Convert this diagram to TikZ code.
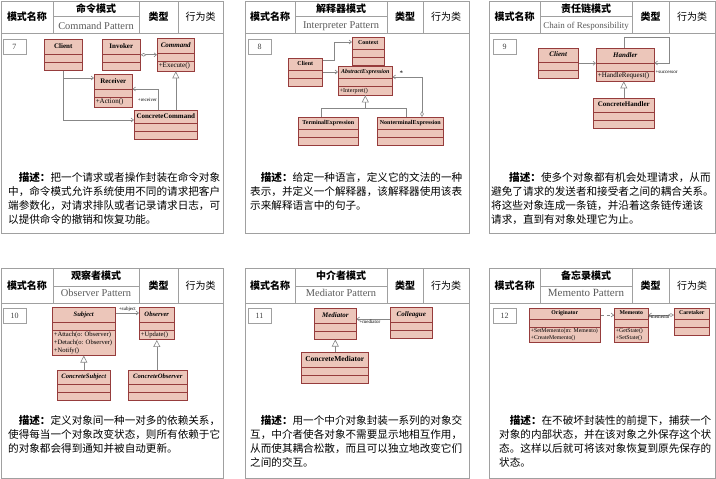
\documentclass[tikz,border=0pt]{standalone}
\usepackage{fontspec}
\setmainfont{Liberation Serif}
\newfontfamily\cjk{Noto Sans CJK SC}
\usetikzlibrary{shapes.multipart,arrows.meta}
\definecolor{clsfill}{RGB}{236,198,186}
\definecolor{clsline}{RGB}{150,60,60}
\definecolor{lgray}{RGB}{135,135,135}
\definecolor{fgray}{RGB}{160,160,160}
\newcommand{\cname}[2]{\rule[-\dimexpr#1/3\relax]{0pt}{#1}\textbf{#2}}
\begin{document}
\begin{tikzpicture}[x=1pt, y=-1pt,
  cls/.style={rectangle split, rectangle split parts=3, draw=clsline, fill=clsfill, line width=0.6pt,
    anchor=north west, inner xsep=1.5pt, inner ysep=1.5pt,
    rectangle split empty part height=1.5pt, rectangle split empty part depth=0pt,
    align=left, rectangle split part align={center,left,left}, font=\fontsize{7}{8}\selectfont},
  assoc/.style={draw=lgray, line width=0.6pt, -{Straight Barb[length=2.5pt,width=4pt]}},
  aggr/.style={assoc, {Diamond[fill=white,length=6pt,width=3.5pt]}-{Straight Barb[length=2.5pt,width=4pt]}},
  gen/.style={draw=lgray, line width=0.6pt, -{Triangle[fill=white,length=7pt,width=7pt]}},
  dep/.style={assoc, dashed},
  plain/.style={draw=lgray, line width=0.6pt},
  rl/.style={font=\fontsize{5}{5.5}\selectfont, inner sep=0.8pt},
  frame/.style={draw=fgray, line width=0.6pt},
  numbox/.style={draw=fgray, minimum width=23, minimum height=15, inner sep=0, font=\fontsize{8}{8}\selectfont, text=black!75},
  desc/.style={anchor=north west, inner sep=0, align=left, font=\cjk\fontsize{10.6}{14}\selectfont},
  hdb/.style={font=\cjk\bfseries\fontsize{10}{10}\selectfont},
  hdr/.style={font=\cjk\fontsize{10}{10}\selectfont}]
\useasboundingbox (0,0) rectangle (716,479);
% card frames
\foreach \l/\a/\b/\c/\r in {1/53/139/178/223, 245/295/387/423/469, 489/540/632/669/715}
  \foreach \t/\s/\h/\e in {1/16/33/233, 268/286/303/478} {
    \draw[frame] (\l,\t) rectangle (\r,\e);
    \draw[frame] (\l,\h) -- (\r,\h) (\a,\t) -- (\a,\h) (\b,\t) -- (\b,\h) (\c,\t) -- (\c,\h) (\a,\s) -- (\b,\s);
    \node[hdb] (name-\l-\t) at ({(\l+\a)/2},{(\t+\h)/2}) {模式名称};
    \node[hdb] (type-\l-\t) at ({(\b+\c)/2},{(\t+\h)/2}) {类型};
    \node[hdr] (kind-\l-\t) at ({(\c+\r)/2},{(\t+\h)/2}) {行为类};
  }
\foreach \n/\x/\y/\zh/\en/\fs in {a/96/1/命令模式/Command Pattern/10.4, b/341/1/解释器模式/Interpreter Pattern/10.4,
    c/586/1/责任链模式/Chain of Responsibility/9, d/96/268/观察者模式/Observer Pattern/10.4,
    e/341/268/中介者模式/Mediator Pattern/10.4, f/586/268/备忘录模式/Memento Pattern/11} {
  \node[hdb] (zh-\n) at (\x,\y+8) {\zh};
  \node[text=black!65, font=\fontsize{\fs}{\fs}\selectfont] (en-\n) at (\x,\y+25) {\en};
}
\node[numbox] (n7) at (14.5,46.5) {7};
\node[numbox] (n8) at (259.5,46.5) {8};
\node[numbox] (n9) at (504.5,46.5) {9};
\node[numbox] (n10) at (14.5,315.5) {10};
\node[numbox] (n11) at (259.5,315.5) {11};
\node[numbox] (n12) at (504.5,315.5) {12};
% 7 command
\node[cls, minimum width=38, minimum height=24] (client7) at (44,39) {\cname{11pt}{Client}\nodepart{second}\nodepart{third}};
\node[cls, minimum width=38, minimum height=23] (invoker7) at (102,39) {\cname{11pt}{Invoker}\nodepart{second}\nodepart{third}};
\node[cls, minimum width=37, minimum height=30] (command7) at (157,38) {\cname{11pt}{\textit{Command}}\nodepart{second}\nodepart{third}+Execute()};
\node[cls, minimum width=38, minimum height=30] (receiver7) at (94,74) {\cname{11pt}{Receiver}\nodepart{second}\nodepart{third}+Action()};
\node[cls, minimum width=63, minimum height=23] (ccmd7) at (134,110) {\cname{9pt}{ConcreteCommand}\nodepart{second}\nodepart{third}};
\draw[aggr] (invoker7.east) -- (invoker7.east -| command7.west);
\draw[assoc] (client7.south) |- ([yshift=-4pt]receiver7.north west);
\draw[assoc] (client7.south) |- ([yshift=-10pt]ccmd7.north west);
\draw[assoc] ([xshift=24pt]ccmd7.north west) |- node[pos=0.25, left, rl] (recv7) {+receiver} ([yshift=-15pt]receiver7.north east);
\draw[gen] (ccmd7.north -| command7.south) -- (command7.south);
% 8 interpreter
\node[cls, font=\fontsize{6}{7}\selectfont, minimum width=32, minimum height=19] (context8) at (352,37) {\cname{8pt}{Context}\nodepart{second}\nodepart{third}};
\node[cls, font=\fontsize{6}{7}\selectfont, minimum width=34, minimum height=19] (client8) at (288,58) {\cname{8pt}{Client}\nodepart{second}\nodepart{third}};
\node[cls, font=\fontsize{6}{7}\selectfont, minimum width=54, minimum height=26] (absexp8) at (338,66) {\cname{8pt}{\textit{AbstractExpression}}\nodepart{second}\nodepart{third}+Interpret()};
\node[cls, font=\fontsize{6}{7}\selectfont, minimum width=60, minimum height=20] (term8) at (298,117) {\cname{8pt}{TerminalExpression}\nodepart{second}\nodepart{third}};
\node[cls, font=\fontsize{6}{7}\selectfont, minimum width=66, minimum height=20] (nonterm8) at (377,117) {\cname{8pt}{NonterminalExpression}\nodepart{second}\nodepart{third}};
\draw[assoc] ([yshift=-2pt]client8.north east) -- ++(12,0) |- ([yshift=-5pt]context8.north west);
\draw[assoc] ([yshift=-14pt]client8.north east) -- ([yshift=-6pt]absexp8.north west);
\draw[plain] ([xshift=29pt]nonterm8.north west) -- ++(0,-9) -| (absexp8.south);
\draw[gen] ([xshift=23pt]term8.north west) -- ++(0,-9) -| (absexp8.south);
\draw[aggr] ([xshift=45pt]nonterm8.north west) |- node[pos=0.85, above, rl, font=\fontsize{7}{7}\selectfont] (star8) {*} ([yshift=-11pt]absexp8.north east);
% 9 chain of responsibility
\node[cls, minimum width=40, minimum height=22] (client9) at (538,48) {\cname{10pt}{\textit{Client}}\nodepart{second}\nodepart{third}};
\node[cls, minimum width=58, minimum height=32] (handler9) at (596,48) {\cname{11pt}{\textit{Handler}}\nodepart{second}\nodepart{third}+HandleRequest()};
\node[cls, minimum width=61, minimum height=22] (chandler9) at (593,98) {\cname{10pt}{ConcreteHandler}\nodepart{second}\nodepart{third}};
\draw[assoc] (client9.east) -- (client9.east -| handler9.west);
\draw[assoc] ([xshift=28pt]handler9.north west) -- ++(0,-11) -| ([xshift=15pt,yshift=-15pt]handler9.north east) -- ([yshift=-15pt]handler9.north east);
\node[rl, anchor=west] (succ9) at ([yshift=-24pt]handler9.north east) {+successor};
\draw[gen] (chandler9.north) -- (chandler9.north |- handler9.south);
% 10 observer
\node[cls, font=\fontsize{6.6}{7.8}\selectfont, minimum width=63, minimum height=45] (subject10) at (52,307) {\cname{11pt}{\textit{Subject}}\nodepart{second}\nodepart{third}+Attach(o: Observer)\\+Detach(o: Observer)\\+Notify()};
\node[cls, font=\fontsize{6.6}{7.8}\selectfont, minimum width=35, minimum height=28] (observer10) at (139,307) {\cname{11pt}{\textit{Observer}}\nodepart{second}\nodepart{third}+Update()};
\node[cls, font=\fontsize{6.6}{7.8}\selectfont, minimum width=53, minimum height=23] (csubject10) at (57,370) {\cname{10pt}{\textit{ConcreteSubject}}\nodepart{second}\nodepart{third}};
\node[cls, font=\fontsize{6.6}{7.8}\selectfont, minimum width=59, minimum height=23] (cobserver10) at (128,370) {\cname{10pt}{\textit{ConcreteObserver}}\nodepart{second}\nodepart{third}};
\draw[assoc] ([yshift=-6pt]subject10.north east) -- node[above, rl] (subj10) {+subject} ([yshift=-6pt]observer10.north west);
\draw[gen] (csubject10.north) -- (subject10.south);
\draw[gen] (cobserver10.north -| observer10.south) -- (observer10.south);
% 11 mediator
\node[cls, minimum width=42, minimum height=26] (mediator11) at (314,308) {\cname{11pt}{\textit{Mediator}}\nodepart{second}\nodepart{third}};
\node[cls, minimum width=42, minimum height=25] (colleague11) at (390,307) {\cname{11pt}{\textit{Colleague}}\nodepart{second}\nodepart{third}};
\node[cls, font=\fontsize{7.5}{8.5}\selectfont, minimum width=67, minimum height=24] (cmediator11) at (301,352) {\cname{11pt}{ConcreteMediator}\nodepart{second}\nodepart{third}};
\draw[assoc] ([yshift=-12pt]colleague11.north west) -- node[pos=0.6, below, rl] (med11) {+mediator} ([yshift=-11pt]mediator11.north east);
\draw[gen] (cmediator11.north -| mediator11.south) -- (mediator11.south);
% 12 memento
\node[cls, font=\fontsize{5.8}{6.8}\selectfont, minimum width=71, minimum height=34] (originator12) at (529,308) {\cname{7pt}{Originator}\nodepart{second}\nodepart{third}+SetMemento(m: Memento)\\+CreateMemento()};
\node[cls, font=\fontsize{5.8}{6.8}\selectfont, minimum width=34, minimum height=34] (memento12) at (614,308) {\cname{7pt}{Memento}\nodepart{second}\nodepart{third}+GetState()\\+SetState()};
\node[cls, font=\fontsize{5.8}{6.8}\selectfont, minimum width=35, minimum height=19] (caretaker12) at (674,308) {\cname{7pt}{Caretaker}\nodepart{second}\nodepart{third}};
\draw[dep] ([yshift=-7pt]originator12.north east) -- ([yshift=-7pt]memento12.north west);
\draw[aggr] ([yshift=-7pt]caretaker12.north west) -- node[pos=0.6, below, rl] (mem12) {+memento} ([yshift=-7pt]memento12.north east);
% descriptions
\node[desc] (d7) at (8,172) {\hspace{1em}\textbf{描述：}把一个请求或者操作封装在命令对象\\中，命令模式允许系统使用不同的请求把客户\\端参数化，对请求排队或者记录请求日志，可\\以提供命令的撤销和恢复功能。};
\node[desc] (d8) at (250,172) {\hspace{1em}\textbf{描述：}给定一种语言，定义它的文法的一种\\表示，并定义一个解释器，该解释器使用该表\\示来解释语言中的句子。};
\node[desc] (d9) at (491,172) {\hspace{1.7em}\textbf{描述：}使多个对象都有机会处理请求，从而\\避免了请求的发送者和接受者之间的耦合关系。\\将这些对象连成一条链，并沿着这条链传递该\\请求，直到有对象处理它为止。};
\node[desc] (d10) at (8,415) {\hspace{1em}\textbf{描述：}定义对象间一种一对多的依赖关系，\\使得每当一个对象改变状态，则所有依赖于它\\的对象都会得到通知并被自动更新。};
\node[desc] (d11) at (250,415) {\hspace{1em}\textbf{描述：}用一个中介对象封装一系列的对象交\\互，中介者使各对象不需要显示地相互作用，\\从而使其耦合松散，而且可以独立地改变它们\\之间的交互。};
\node[desc] (d12) at (499,415) {\hspace{1em}\textbf{描述：}在不破坏封装性的前提下，捕获一个\\对象的内部状态，并在该对象之外保存这个状\\态。这样以后就可将该对象恢复到原先保存的\\状态。};
\end{tikzpicture}
\end{document}
